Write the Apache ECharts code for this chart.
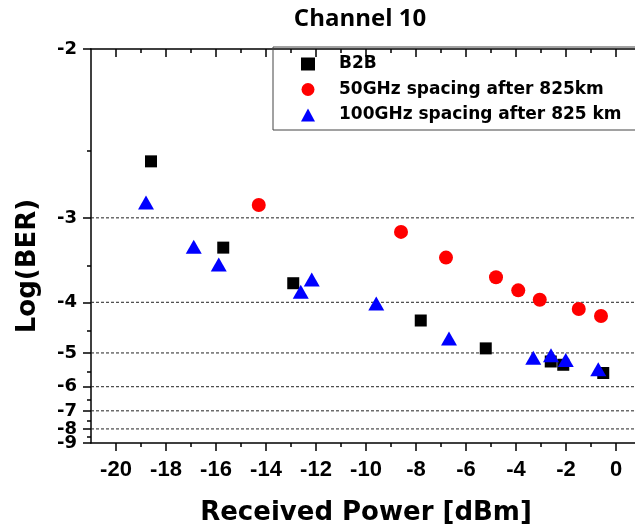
<!DOCTYPE html>
<html>
<head>
<meta charset="utf-8">
<script src="https://cdn.jsdelivr.net/npm/echarts@6/dist/echarts.min.js"></script>
<style>
html,body{margin:0;padding:0;background:#fff;}
#chart{width:635px;height:526px;}
</style>
</head>
<body>
<div id="chart"></div>
<script>
// ---- data (x: received power dBm, y: log(BER)) ----
const seriesNames = ['B2B', '50GHz spacing after 825km', '100GHz spacing after 825 km'];
const b2bX = [-18.6, -15.71, -12.91, -7.81, -5.21, -2.61, -2.11, -0.51];
const b2bY = [-2.57, -3.29, -3.72, -4.31, -4.89, -5.22, -5.31, -5.55];
const ghz50X = [-14.29, -8.6, -6.8, -4.8, -3.91, -3.05, -1.49, -0.6];
const ghz50Y = [-2.89, -3.13, -3.40, -3.64, -3.82, -3.96, -4.11, -4.23];
const ghz100X = [-18.8, -16.89, -15.89, -12.61, -12.17, -9.59, -6.68, -3.31, -2.6, -2.01, -0.71];
const ghz100Y = [-2.87, -3.28, -3.48, -3.84, -3.67, -4.02, -4.67, -5.12, -5.06, -5.18, -5.44];
const xTicks = [-20, -18, -16, -14, -12, -10, -8, -6, -4, -2, 0];
const xMinorTicks = [-19, -17, -15, -13, -11, -9, -7, -5, -3, -1];
const yTicks = [-2, -3, -4, -5, -6, -7, -8, -9];
const yLabelsA = [-2, -3, -4, -5, -6, -7, -9];
const yLabelsB = [-8];
const yMinorTicks = [-2.5, -3.5, -4.5, -5.5, -6.5, -7.5, -8.5];
const yGridLines = [-3, -4, -5, -6, -7, -8];
const xMin = -21, xMax = 1;

// reciprocal scale for log(BER): position ~ 1/|log(BER)|
const f = v => -1 / v;
const pts = (xs, ys) => xs.map((x, i) => [x, f(ys[i])]);
const fmt = v => String(Math.round(-1 / v));

const AX = {color: '#000', width: 1.5};
const tickFont = {fontFamily: 'Liberation Sans', fontWeight: 'bold', fontSize: 22, color: '#000'};
const yTickFont = {fontFamily: 'DejaVu Sans', fontWeight: 'bold', fontSize: 18, color: '#000'};
const nameFont = {fontFamily: 'DejaVu Sans', fontWeight: 'bold', fontSize: 26, color: '#000'};

const gridSeries = yGridLines.map(v => ({
  type: 'line', name: '_g' + v, xAxisIndex: 0, yAxisIndex: 0, z: 1, silent: true,
  symbol: 'none', showSymbol: false,
  lineStyle: {type: [3, 2], color: '#222', width: 1},
  data: [[xMin, f(v)], [xMax, f(v)]]
}));

const chart = echarts.init(document.getElementById('chart'), null, {renderer: 'canvas'});
chart.setOption({
  animation: false,
  backgroundColor: '#fff',
  title: {
    text: 'Channel 10', left: 360, top: 7, padding: 0, textAlign: 'center',
    textStyle: {fontFamily: 'Open Sans', fontWeight: 'bold', fontSize: 24, color: '#000'}
  },
  legend: {
    orient: 'vertical', left: 273, top: 47,
    padding: [8, 45, 6, 28],
    itemWidth: 14, itemHeight: 13, itemGap: 7.5,
    borderColor: '#444', borderWidth: 1,
    textStyle: {fontFamily: 'DejaVu Sans', fontWeight: 'bold', fontSize: 17, color: '#000', lineHeight: 18, padding: [0, 0, 0, 19]},
    data: seriesNames
  },
  grid: {left: 91, top: 49, right: -6, bottom: 83, containLabel: false, outerBoundsMode: 'none'},
  xAxis: [
    {
      type: 'value', min: xMin, max: xMax, position: 'bottom',
      axisLine: {show: true, onZero: false, lineStyle: AX},
      axisTick: {show: true, customValues: xTicks, length: 8, lineStyle: AX},
      axisLabel: Object.assign({show: true, customValues: xTicks, margin: 16, hideOverlap: false}, tickFont),
      splitLine: {show: false},
      name: 'Received Power [dBm]', nameLocation: 'middle', nameGap: 57, nameTextStyle: nameFont
    },
    {
      type: 'value', min: xMin, max: xMax, position: 'top',
      axisLine: {show: true, onZero: false, lineStyle: AX},
      axisTick: {show: true, inside: true, customValues: xTicks, length: 8, lineStyle: AX},
      axisLabel: {show: false}, splitLine: {show: false}
    },
    {
      type: 'value', min: xMin, max: xMax, position: 'top',
      axisLine: {show: false, onZero: false},
      axisTick: {show: true, inside: true, customValues: xMinorTicks, length: 4, lineStyle: AX},
      axisLabel: {show: false}, splitLine: {show: false}
    },
    {
      type: 'value', min: xMin, max: xMax, position: 'bottom',
      axisLine: {show: false, onZero: false},
      axisTick: {show: true, customValues: xMinorTicks, length: 4, lineStyle: AX},
      axisLabel: {show: false}, splitLine: {show: false}
    }
  ],
  yAxis: [
    {
      type: 'value', min: f(-9), max: f(-2), position: 'left',
      axisLine: {show: true, onZero: false, lineStyle: AX},
      axisTick: {show: true, customValues: yTicks.map(f), length: 8, lineStyle: AX},
      axisLabel: Object.assign({
        show: true, customValues: yLabelsA.map(f), margin: 14,
        showMinLabel: true, showMaxLabel: true, hideOverlap: false,
        formatter: fmt
      }, yTickFont),
      splitLine: {show: false},
      name: 'Log(BER)', nameLocation: 'middle', nameRotate: 90, nameGap: 50,
      nameTextStyle: Object.assign({padding: [0, 40, 0, 0]}, nameFont)
    },
    {
      type: 'value', min: f(-9), max: f(-2), position: 'left',
      axisLine: {show: false, onZero: false},
      axisTick: {show: true, customValues: yMinorTicks.map(f), length: 4, lineStyle: AX},
      axisLabel: Object.assign({
        show: true, customValues: yLabelsB.map(f), margin: 14,
        showMinLabel: true, showMaxLabel: true, hideOverlap: false,
        formatter: fmt
      }, yTickFont),
      splitLine: {show: false}
    }
  ],
  series: gridSeries.concat([
    {
      type: 'scatter', name: seriesNames[0], xAxisIndex: 0, yAxisIndex: 0, z: 2,
      symbol: 'rect', symbolSize: 12, itemStyle: {color: '#000', opacity: 1},
      data: pts(b2bX, b2bY)
    },
    {
      type: 'scatter', name: seriesNames[1], xAxisIndex: 0, yAxisIndex: 0, z: 3,
      symbol: 'circle', symbolSize: 14, itemStyle: {color: '#ff0000', opacity: 1},
      data: pts(ghz50X, ghz50Y)
    },
    {
      type: 'scatter', name: seriesNames[2], xAxisIndex: 0, yAxisIndex: 0, z: 4,
      symbol: 'triangle', symbolSize: [16, 14], itemStyle: {color: '#0000ff', opacity: 1},
      data: pts(ghz100X, ghz100Y)
    }
  ])
});
</script>
</body>
</html>
